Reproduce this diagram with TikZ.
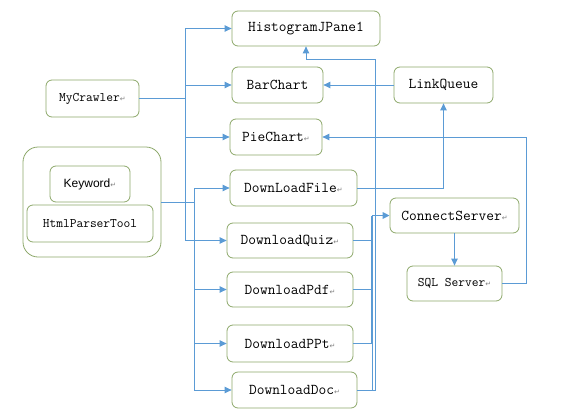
\documentclass[tikz,border=0pt]{standalone}
\usepackage{fontspec}
\usetikzlibrary{arrows.meta}
\newfontfamily\sansf{Liberation Sans}
\newfontfamily\arrfont{DejaVu Sans}
\definecolor{boxgreen}{HTML}{8DA86A}
\definecolor{lineblue}{HTML}{5B9BD5}
\newcommand\retmark{{\arrfont\color{gray}\fontsize{7}{7}\selectfont ↵}}
\tikzset{
  box/.style={draw=boxgreen, line width=0.8pt, rounded corners=6pt, fill=white,
    inner sep=0pt, font=\ttfamily\fontsize{15}{17}\selectfont},
  smallbox/.style={box, font=\ttfamily\fontsize{13.1}{15}\selectfont},
  conn/.style={draw=lineblue, line width=0.9pt},
  arr/.style={conn, -{Triangle[length=7pt,width=6.5pt]}},
}
\begin{document}
\begin{tikzpicture}[x=1pt,y=-1pt]
\useasboundingbox (0,0) rectangle (581,418);
% nodes
\node[box, minimum width=148pt, minimum height=35pt] (hist) at (306,28.5) {HistogramJPane1};
\node[box, minimum width=91pt, minimum height=36pt] (bar) at (277.5,85) {BarChart};
\node[box, minimum width=92pt, minimum height=36pt] (pie) at (276,137) {PieChart\retmark};
\node[box, minimum width=127pt, minimum height=36pt] (file) at (293.5,188) {DownLoadFile\retmark};
\node[box, minimum width=126pt, minimum height=35pt] (quiz) at (290,240.5) {DownloadQuiz\retmark};
\node[box, minimum width=126pt, minimum height=35pt] (pdf) at (290,289.5) {DownloadPdf\retmark};
\node[box, minimum width=126pt, minimum height=37pt] (ppt) at (290,343.5) {DownloadPPt\retmark};
\node[box, minimum width=125pt, minimum height=36pt] (doc) at (294.5,390) {DownloadDoc\retmark};
\node[box, minimum width=99pt, minimum height=36pt] (lq) at (443.5,85) {LinkQueue};
\node[box, minimum width=129pt, minimum height=35pt] (cs) at (454.5,215.5) {ConnectServer\retmark};
\node[smallbox, minimum width=95pt, minimum height=35pt] (sql) at (454.5,283.5) {SQL Server\retmark};
\node[smallbox, minimum width=93pt, minimum height=37pt] (mc) at (92.5,98.5) {MyCrawler\retmark};
\node[box, rounded corners=15pt, minimum width=138pt, minimum height=110pt] (grp) at (92,202) {};
\node[box, minimum width=80pt, minimum height=36pt, font=\sansf\fontsize{12}{14}\selectfont] (kw) at (90,184) {Keyword\retmark};
\node[smallbox, minimum width=126pt, minimum height=37pt] (hpt) at (90,223.5) {HtmlParserTool};
% junction coordinates
\coordinate (mcj) at (185,98.5);
\coordinate (grj) at (194,202);
\coordinate (csj) at (372,215.5);
\coordinate (hj) at (375,59);
% MyCrawler trunk
\draw[conn] (mc.east) -- (mcj);
\draw[arr] (mcj) |- (hist.west);
\draw[arr] (mcj) |- (bar.west);
\draw[arr] (mcj) |- (pie.west);
\draw[arr] (mcj) |- (quiz.west);
% group trunk
\draw[conn] (grp.east) -- (grj);
\draw[arr] (grj) |- (file.west);
\draw[arr] (grj) |- (pdf.west);
\draw[arr] (grj) |- (ppt.west);
\draw[arr] (grj) |- (doc.west);
% LinkQueue
\draw[arr] (file.east) -| (lq.south);
\draw[arr] (lq.west) -- (bar.east);
% servers
\draw[arr] (cs.south) -- (sql.north);
\draw[arr] (sql.east) -- ++(24,0) |- (pie.east);
% downloads to ConnectServer
\draw[conn] (quiz.east) -| (csj);
\draw[conn] (pdf.east) -| (csj);
\draw[conn] (ppt.east) -| (csj);
\draw[conn] (doc.east) -| (csj);
\draw[conn, line width=1.8pt] (ppt.east -| csj) -- (csj);
\draw[arr, line width=1.6pt] (csj) -- (cs.west);
% to Histogram
\draw[conn] (doc.east) -| (hj);
\draw[arr] (hj) -| (hist.south);
\end{tikzpicture}
\end{document}
